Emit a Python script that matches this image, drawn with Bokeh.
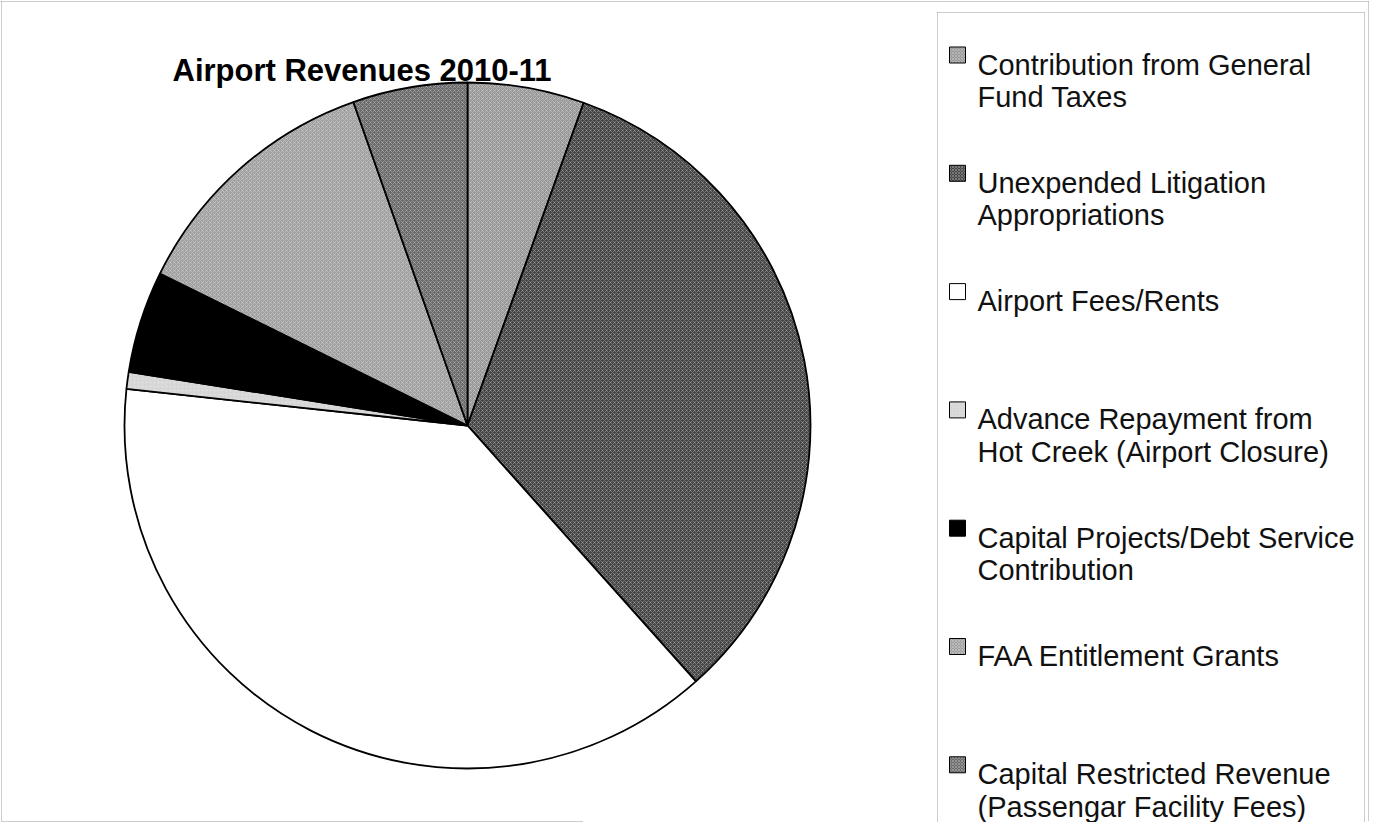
import numpy as np
from bokeh.plotting import figure
from bokeh.models import Range1d, ColumnDataSource
from bokeh.core.properties import value
from bokeh.embed import file_html
from bokeh.resources import INLINE

# ---- data (percent of total revenue) ----
categories = [
    "Contribution from General Fund Taxes",
    "Unexpended Litigation Appropriations",
    "Airport Fees/Rents",
    "Advance Repayment from Hot Creek (Airport Closure)",
    "Capital Projects/Debt Service Contribution",
    "FAA Entitlement Grants",
    "Capital Restricted Revenue (Passengar Facility Fees)",
]
shares = [5.5, 32.9, 38.3, 0.8, 4.8, 12.3, 5.4]
legend_lines = [
    ["Contribution from General", "Fund Taxes"],
    ["Unexpended Litigation", "Appropriations"],
    ["Airport Fees/Rents"],
    ["Advance Repayment from", "Hot Creek (Airport Closure)"],
    ["Capital Projects/Debt Service", "Contribution"],
    ["FAA Entitlement Grants"],
    ["Capital Restricted Revenue", "(Passengar Facility Fees)"],
]
title_text = "Airport Revenues 2010-11"

# ---- styles ----
fills = ["#989898", "#454545", "#ffffff", "#d6d6d6", "#000000", "#a0a0a0", "#6a6a6a"]
hatches = ["diagonal_cross", "diagonal_cross", " ", "dot", " ", "diagonal_cross", "diagonal_cross"]

W, H = 1369, 822
IMG_H = 838
def Y(img_y):
    return IMG_H - img_y

p = figure(width=W, height=H, output_backend="svg", toolbar_location=None,
           x_range=Range1d(8, 8 + W), y_range=Range1d(IMG_H - 8 - H, IMG_H - 8),
           min_border=0, background_fill_color="white", border_fill_color="white")
p.axis.visible = False
p.grid.visible = False
p.outline_line_color = None

# ---- pie ----
vals = np.array(shares, dtype=float)
frac = vals / vals.sum()
cum = np.concatenate([[0.0], np.cumsum(frac)])
start = np.pi / 2 - cum[:-1] * 2 * np.pi
end = np.pi / 2 - cum[1:] * 2 * np.pi
src = ColumnDataSource(dict(cat=categories, start=start, end=end, fill=fills, hatch=hatches))
cx, cy, r = 475, Y(433), 343
p.wedge(x=cx, y=cy, radius=r, start_angle="start", end_angle="end", direction="clock",
        fill_color="fill", hatch_pattern="hatch", hatch_color="white", hatch_alpha=0.28,
        hatch_scale=4, hatch_weight=1, line_color="black", line_width=1.8, source=src)

# ---- title ----
p.text(x=[180], y=[Y(78)], text=[title_text], text_font=value("Liberation Sans"),
       text_font_style="bold", text_font_size="31px", text_color="black",
       text_baseline="alphabetic", text_align="left")

# ---- legend ----
lx_box, lx_text = 965, 985
base0, step, lstep = 72, 118.3, 32.5
mx, my, tx, ty, tt = [], [], [], [], []
for i, lines in enumerate(legend_lines):
    b = base0 + i * step
    mx.append(lx_box)
    my.append(Y(b - 9.5))
    for j, ln in enumerate(lines):
        tx.append(lx_text)
        ty.append(Y(b + j * lstep))
        tt.append(ln)
p.rect(x=mx, y=my, width=16, height=16, fill_color=fills, hatch_pattern=hatches,
       hatch_color="white", hatch_alpha=0.28, hatch_scale=3, line_color="black", line_width=1)
p.text(x=tx, y=ty, text=tt, text_font=value("Liberation Sans"), text_font_size="29px",
       text_color="#111111", text_baseline="alphabetic", text_align="left",
       text_line_height=1.0)

# ---- frame lines (dotted, as in the scan) ----
frame_kw = dict(line_color="#9a9a9a", line_width=1, line_dash="1 1")
p.line(x=[8, 1377], y=[Y(9), Y(9)], **frame_kw)
p.line(x=[9, 9], y=[Y(9), Y(829)], **frame_kw)
p.line(x=[1376, 1376], y=[Y(9), Y(829)], **frame_kw)
p.line(x=[9, 590], y=[Y(829), Y(829)], **frame_kw)
# legend box
p.line(x=[945, 1372], y=[Y(20), Y(20)], **frame_kw)
p.line(x=[945, 945], y=[Y(20), Y(830)], **frame_kw)
p.line(x=[1372, 1372], y=[Y(20), Y(830)], **frame_kw)

open("out.html", "w").write(file_html(p, INLINE))
